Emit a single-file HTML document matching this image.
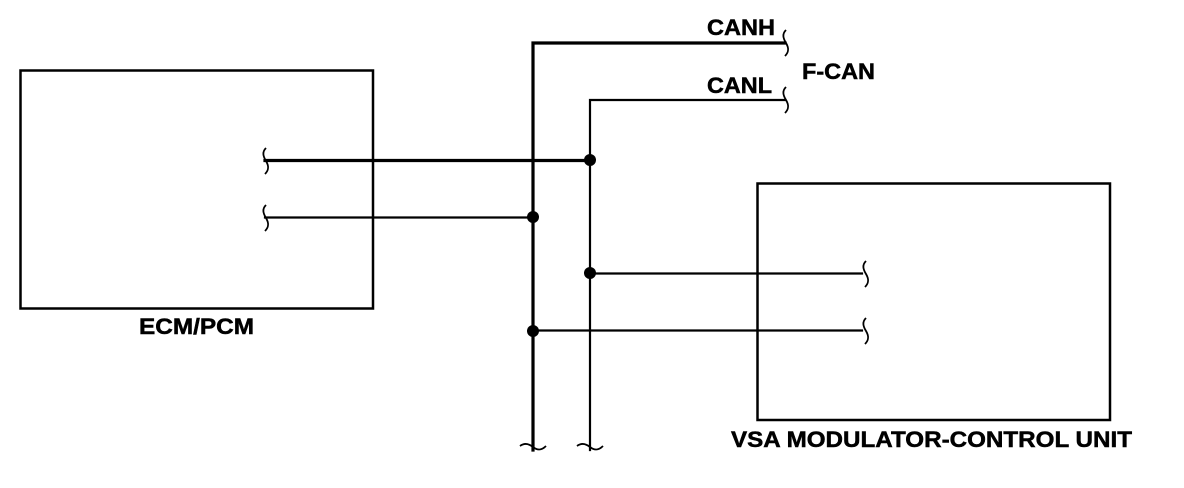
<!DOCTYPE html>
<html><head><meta charset="utf-8"><style>html,body{margin:0;padding:0;background:#fff}svg{display:block}</style></head>
<body>
<svg width="1184" height="488" viewBox="0 0 1184 488" xmlns="http://www.w3.org/2000/svg">
<g fill="none" stroke="#000" stroke-linecap="square">
<rect x="20.5" y="70.5" width="352.5" height="238" stroke-width="2.5"/>
<rect x="757.5" y="183.5" width="352.5" height="236.5" stroke-width="2.5"/>
<polyline points="533,450 533,43 785,43" stroke-width="3.2"/>
<polyline points="590,450 590,100 785,100" stroke-width="2.2"/>
<line x1="265" y1="160.5" x2="590" y2="160.5" stroke-width="3.2"/>
<line x1="265" y1="217.5" x2="533" y2="217.5" stroke-width="2.2"/>
<line x1="590" y1="273.5" x2="862" y2="273.5" stroke-width="2.2"/>
<line x1="533" y1="330.5" x2="862" y2="330.5" stroke-width="2.2"/>
</g>
<g fill="none" stroke="#000" stroke-width="1.8">
<path d="M786,30 c-4,4 -3,8 0,13 c3,5 3,9 -1,13"/>
<path d="M786,87 c-4,4 -3,8 0,13 c3,5 3,9 -1,13"/>
<path d="M266,148 c-4,4 -3,8 0,13 c3,5 3,9 -1,13"/>
<path d="M266,205 c-4,4 -3,8 0,13 c3,5 3,9 -1,13"/>
<path d="M866,261 c-4,4 -3,8 0,13 c3,5 3,9 -1,13"/>
<path d="M866,318 c-4,4 -3,8 0,13 c3,5 3,9 -1,13"/>
<path d="M520,446 c4,-3 8,-3 13,1 c5,4 9,3 13,-1"/>
<path d="M577,446 c4,-3 8,-3 13,1 c5,4 9,3 13,-1"/>
</g>
<g fill="#000">
<circle cx="590" cy="160" r="6"/>
<circle cx="533" cy="217" r="6"/>
<circle cx="590" cy="273" r="6"/>
<circle cx="533" cy="331" r="6"/>
</g>
<g font-family="Liberation Sans, sans-serif" font-weight="bold" font-size="22.5" fill="#000" stroke="#000" stroke-width="0.5">
<text x="707" y="35" textLength="68" lengthAdjust="spacingAndGlyphs">CANH</text>
<text x="707" y="93" textLength="65" lengthAdjust="spacingAndGlyphs">CANL</text>
<text x="802" y="79" textLength="73" lengthAdjust="spacingAndGlyphs">F-CAN</text>
<text x="139" y="334" textLength="115" lengthAdjust="spacingAndGlyphs">ECM/PCM</text>
<text x="731" y="447" textLength="401" lengthAdjust="spacingAndGlyphs">VSA MODULATOR-CONTROL UNIT</text>
</g>
</svg>
</body></html>
